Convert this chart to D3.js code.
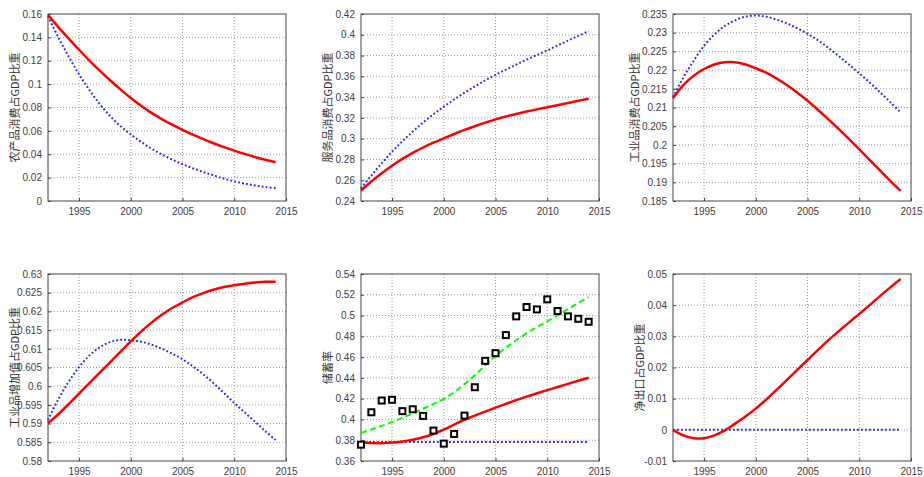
<!DOCTYPE html>
<html>
<head>
<meta charset="utf-8">
<script src="https://cdn.jsdelivr.net/npm/d3@7"></script>
<style>
  body { margin: 0; background: #fff; }
  .tick text { font-family: "Liberation Sans", Arial, sans-serif; font-size: 10px; fill: #404040; }
  .ylab { font-family: "Noto Sans CJK SC", sans-serif; font-size: 11px; fill: #333; }
</style>
</head>
<body>
<div id="chart"></div>
<script>
// years on x axis
const years = d3.range(1992, 2015);

// panel 1: 农产品消费占GDP比重
const agriRed = [0.1590, 0.1488, 0.1389, 0.1294, 0.1202, 0.1115, 0.1033, 0.0955, 0.0882, 0.0815, 0.0754, 0.0701, 0.0653, 0.0609, 0.0568, 0.0530, 0.0494, 0.0461, 0.0431, 0.0403, 0.0377, 0.0353, 0.0331];
const agriBlue = [0.1580, 0.1400, 0.1235, 0.1085, 0.0950, 0.0830, 0.0727, 0.0641, 0.0570, 0.0505, 0.0448, 0.0398, 0.0354, 0.0315, 0.0280, 0.0248, 0.0219, 0.0191, 0.0168, 0.0149, 0.0133, 0.0120, 0.0109];

// panel 2: 服务品消费占GDP比重
const servRed = [0.2500, 0.2588, 0.2667, 0.2740, 0.2805, 0.2863, 0.2915, 0.2961, 0.3003, 0.3045, 0.3084, 0.3120, 0.3154, 0.3186, 0.3213, 0.3238, 0.3261, 0.3282, 0.3302, 0.3323, 0.3344, 0.3365, 0.3385];
const servBlue = [0.2522, 0.2645, 0.2762, 0.2875, 0.2975, 0.3068, 0.3155, 0.3235, 0.3308, 0.3377, 0.3442, 0.3503, 0.3561, 0.3615, 0.3665, 0.3713, 0.3760, 0.3805, 0.3850, 0.3897, 0.3943, 0.3990, 0.4036];

// panel 3: 工业品消费占GDP比重
const indConsRed = [0.2125, 0.2160, 0.2185, 0.2203, 0.2215, 0.2221, 0.2221, 0.2215, 0.2205, 0.2193, 0.2178, 0.2160, 0.2140, 0.2118, 0.2094, 0.2069, 0.2043, 0.2016, 0.1988, 0.1960, 0.1932, 0.1904, 0.1877];
const indConsBlue = [0.2128, 0.2180, 0.2225, 0.2265, 0.2295, 0.2318, 0.2333, 0.2343, 0.2346, 0.2343, 0.2335, 0.2325, 0.2312, 0.2297, 0.2280, 0.2260, 0.2238, 0.2215, 0.2191, 0.2167, 0.2141, 0.2114, 0.2087];

// panel 4: 工业品增加值占GDP比重
const indValRed = [0.5901, 0.5925, 0.5952, 0.5980, 0.6008, 0.6036, 0.6064, 0.6092, 0.6120, 0.6146, 0.6170, 0.6191, 0.6209, 0.6224, 0.6238, 0.6249, 0.6258, 0.6265, 0.6270, 0.6274, 0.6277, 0.6279, 0.6279];
const indValBlue = [0.5910, 0.5965, 0.6012, 0.6051, 0.6082, 0.6104, 0.6118, 0.6124, 0.6123, 0.6119, 0.6111, 0.6100, 0.6087, 0.6072, 0.6053, 0.6032, 0.6008, 0.5982, 0.5955, 0.5930, 0.5905, 0.5880, 0.5856];

// panel 5: 储蓄率
const saveObs = [0.3757, 0.4069, 0.4182, 0.4189, 0.4080, 0.4098, 0.4034, 0.3893, 0.3767, 0.3860, 0.4037, 0.4310, 0.4564, 0.4638, 0.4812, 0.4992, 0.5082, 0.5059, 0.5156, 0.5044, 0.4992, 0.4969, 0.4940];
const saveGreen = [0.3870, 0.3903, 0.3938, 0.3975, 0.4015, 0.4058, 0.4103, 0.4150, 0.4195, 0.4262, 0.4340, 0.4425, 0.4520, 0.4610, 0.4690, 0.4762, 0.4828, 0.4888, 0.4944, 0.5003, 0.5062, 0.5120, 0.5178];
const saveRed = [0.3780, 0.3773, 0.3772, 0.3777, 0.3788, 0.3805, 0.3828, 0.3860, 0.3903, 0.3950, 0.3997, 0.4036, 0.4075, 0.4113, 0.4150, 0.4186, 0.4220, 0.4252, 0.4282, 0.4312, 0.4342, 0.4372, 0.4402];
const saveBlue = [0.3782, 0.3782, 0.3782, 0.3782, 0.3782, 0.3782, 0.3782, 0.3782, 0.3782, 0.3782, 0.3782, 0.3782, 0.3782, 0.3782, 0.3782, 0.3782, 0.3782, 0.3782, 0.3782, 0.3782, 0.3782, 0.3782, 0.3782];

// panel 6: 净出口占GDP比重
const netExpRed = [0.0000, -0.0018, -0.0027, -0.0027, -0.0018, -0.0002, 0.0020, 0.0043, 0.0068, 0.0097, 0.0128, 0.0160, 0.0192, 0.0224, 0.0256, 0.0287, 0.0316, 0.0344, 0.0372, 0.0400, 0.0429, 0.0457, 0.0484];
const netExpBlue = [0, 0, 0, 0, 0, 0, 0, 0, 0, 0, 0, 0, 0, 0, 0, 0, 0, 0, 0, 0, 0, 0, 0];

// x and y ticks
const xTicks = [1995, 2000, 2005, 2010, 2015];
const yTicks1 = [0, 0.02, 0.04, 0.06, 0.08, 0.1, 0.12, 0.14, 0.16];
const yTicks2 = [0.24, 0.26, 0.28, 0.3, 0.32, 0.34, 0.36, 0.38, 0.4, 0.42];
const yTicks3 = [0.185, 0.19, 0.195, 0.2, 0.205, 0.21, 0.215, 0.22, 0.225, 0.23, 0.235];
const yTicks4 = [0.58, 0.585, 0.59, 0.595, 0.6, 0.605, 0.61, 0.615, 0.62, 0.625, 0.63];
const yTicks5 = [0.36, 0.38, 0.4, 0.42, 0.44, 0.46, 0.48, 0.5, 0.52, 0.54];
const yTicks6 = [-0.01, 0, 0.01, 0.02, 0.03, 0.04, 0.05];

const panels = [
  { label: "农产品消费占GDP比重", ticks: yTicks1, red: agriRed, blue: agriBlue },
  { label: "服务品消费占GDP比重", ticks: yTicks2, red: servRed, blue: servBlue },
  { label: "工业品消费占GDP比重", ticks: yTicks3, red: indConsRed, blue: indConsBlue },
  { label: "工业品增加值占GDP比重", ticks: yTicks4, red: indValRed, blue: indValBlue },
  { label: "储蓄率", ticks: yTicks5, red: saveRed, blue: saveBlue, green: saveGreen, obs: saveObs },
  { label: "净出口占GDP比重", ticks: yTicks6, red: netExpRed, blue: netExpBlue }
];

// Set up layout
const W = 924, H = 477;
const colX = [48, 361, 673];
const rowY = [14, 274];
const pw = 238, ph = 187;

const svg = d3.select("#chart").append("svg").attr("width", W).attr("height", H);

const fmt = d => String(+d.toFixed(6));

panels.forEach((p, i) => {
  const g = svg.append("g")
    .attr("transform", `translate(${colX[i % 3]},${rowY[Math.floor(i / 3)]})`);

  const x = d3.scaleLinear().domain([1992, 2015]).range([0, pw]);
  const y = d3.scaleLinear().domain(d3.extent(p.ticks)).range([ph, 0]);

  // grid
  g.append("g").selectAll("line").data(xTicks.slice(0, -1)).enter().append("line")
    .attr("x1", d => x(d)).attr("x2", d => x(d)).attr("y1", 0).attr("y2", ph)
    .style("stroke", "#999").style("stroke-width", 1).style("stroke-dasharray", "1,2");
  g.append("g").selectAll("line").data(p.ticks.slice(1, -1)).enter().append("line")
    .attr("x1", 0).attr("x2", pw).attr("y1", d => y(d)).attr("y2", d => y(d))
    .style("stroke", "#999").style("stroke-width", 1).style("stroke-dasharray", "1,2");

  // axes
  const ax = g.append("g").attr("transform", `translate(0,${ph})`)
    .call(d3.axisBottom(x).tickValues(xTicks).tickFormat(d3.format("d")).tickSizeInner(-3).tickSizeOuter(0).tickPadding(7));
  const ay = g.append("g")
    .call(d3.axisLeft(y).tickValues(p.ticks).tickFormat(fmt).tickSizeInner(-3).tickSizeOuter(0).tickPadding(6));
  [ax, ay].forEach(a => {
    a.select(".domain").remove();
    a.selectAll(".tick line").style("stroke", "#444");
  });

  // box
  g.append("rect").attr("width", pw).attr("height", ph)
    .style("fill", "none").style("stroke", "#444").style("stroke-width", 1);

  // y label
  g.append("text").attr("class", "ylab")
    .attr("transform", `translate(${i === 2 ? -38 : -33},${ph / 2}) rotate(-90)`)
    .attr("dy", "0.35em")
    .style("text-anchor", "middle")
    .text(p.label);

  const line = arr => d3.line()
    .x((d, k) => x(years[k]))
    .y(d => y(d))
    .curve(d3.curveCatmullRom.alpha(0.5))(arr);

  const plot = g.append("g");

  // blue dotted
  plot.append("path").attr("d", line(p.blue))
    .style("fill", "none").style("stroke", "#2626ff").style("stroke-width", 2)
    .style("stroke-dasharray", "1.8,2.2");

  if (p.green) {
    plot.append("path").attr("d", line(p.green))
      .style("fill", "none").style("stroke", "#00ff00").style("stroke-width", 2)
      .style("stroke-dasharray", "6,3.5");
  }

  // red solid
  plot.append("path").attr("d", line(p.red))
    .style("fill", "none").style("stroke", "#ff0000").style("stroke-width", 2.5);

  if (p.obs) {
    plot.selectAll(".obs").data(p.obs).enter().append("rect")
      .attr("class", "obs")
      .attr("x", (d, k) => x(years[k]) - 3)
      .attr("y", d => y(d) - 3)
      .attr("width", 6).attr("height", 6)
      .style("fill", "#fff").style("stroke", "#000").style("stroke-width", 2);
  }
});
</script>
</body>
</html>
